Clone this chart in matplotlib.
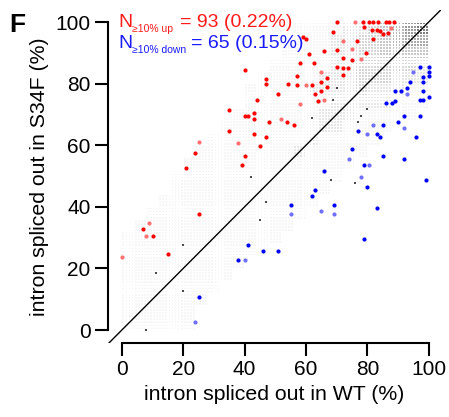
import numpy as np
import matplotlib
matplotlib.use("Agg")
import matplotlib.pyplot as plt

plt.rcParams["font.family"] = ["Liberation Sans", "DejaVu Sans"]

# ---- data ----
up_x = [70, 78.5, 80.5, 82, 83.4, 86, 87, 88.6, 68.7, 59, 60, 79, 81.4, 83, 84, 85,
        86.6, 82, 76.5, 65.8, 61, 72, 79.5, 70, 58, 62.5, 70, 72, 73.6, 75, 57, 66.8,
        72, 65, 62, 66.8, 57, 63, 65, 64, 51, 40, 47, 47, 54, 44, 35, 40, 41, 43, 43,
        48, 53.7, 56, 35, 43, 47, 45, 40, 39, 24, 21, 25, 7, 10, 15]
up_y = [100, 100, 100, 100, 100, 100, 100, 100, 96.8, 95, 94.5, 98.4, 97.4, 97.4, 97,
        96, 96.4, 94.5, 94, 90.6, 89.6, 88.3, 90, 91, 86.7, 86.7, 85.4, 85, 85, 87.6,
        82.5, 81.8, 82.8, 80.5, 79.5, 78.9, 79.5, 76.6, 77.6, 74.4, 76.6, 84.4, 81.5,
        80, 80, 74.7, 71.4, 69.5, 69.5, 70.5, 68.5, 67.5, 67.5, 66.6, 64.6, 63.6, 62.7,
        59.7, 56.5, 53.6, 57.5, 52.6, 37.7, 32.8, 30.5, 24.7]
up_light_x = [76, 87.6, 72, 75, 78, 65, 60, 58, 52, 38, 25, 9, 8, 0, 66]
up_light_y = [100, 98, 94, 91.2, 88, 83.8, 79.5, 73.4, 68.5, 60.7, 61, 34.7, 30.5, 23.7, 74.7]

down_x = [97, 100, 100, 100, 98, 98, 94, 92.8, 89, 91, 98, 86, 88, 89, 97, 98, 100,
          92, 97, 90, 85, 77, 83, 84, 96, 75, 85, 92, 79, 66, 99, 80, 63, 62, 55, 69,
          83, 79, 41, 46, 51, 38, 25]
down_y = [85.4, 85.4, 83.8, 82.5, 82, 80.5, 80.5, 78.6, 77.6, 77.6, 77.5, 73.7, 73.7,
          74.4, 74.7, 74.7, 75.6, 69.5, 69.5, 67.5, 66.5, 64.6, 63.6, 62.7, 62.7, 58.8,
          56.5, 55.5, 53.6, 51.6, 48.7, 46.4, 45.5, 43.5, 40.6, 40.6, 39.6, 29.5, 27.6,
          25.6, 25.6, 22.7, 10.7]
down_light_x = [95, 92.8, 92, 82, 80, 74, 80.5, 78, 55, 65, 69, 40, 24]
down_light_y = [83.8, 76.6, 65.6, 66.5, 63.6, 55.5, 53.6, 49.7, 37.7, 38.6, 37.7, 22.7, 2.6]

dark_x = [42, 47, 45, 20, 11, 20, 8, 68, 76, 80, 78, 77, 62, 68.7, 70]
dark_y = [49.7, 41.6, 35.7, 27.6, 18.5, 12.7, 0, 48.7, 47.7, 71.7, 69.5, 67.5, 68.8, 74.7, 78.6]

# background density of unchanged introns, 4%-cells, top row = 96-100 %
density_map = [
    "0000000000000011112234579",
    "0000000000000011122334566",
    "0000000000000111122334444",
    "0000000000001111122333332",
    "0000000000011111222333222",
    "0000000000111112222322211",
    "0000000000111111122222111",
    "0000000001111111222111110",
    "0000000011111111221111000",
    "0000000111111112111110000",
    "0000001111111121111100000",
    "0000011111111111111000000",
    "0000111111111111110000000",
    "0000111111111111100000000",
    "0001111111111111000000000",
    "0011111111111110000000000",
    "0111111111111100000000000",
    "1111111111111000000000000",
    "1111111111110000000000000",
    "1111111111000000000000000",
    "1111111110000000000000000",
    "1111111100000000000000000",
    "1111111000000000000000000",
    "1111110000000000000000000",
    "1111110000000000000000000",
]

x_ticks = [0, 20, 40, 60, 80, 100]
y_ticks = [0, 20, 40, 60, 80, 100]

W, H = 449, 417
fig = plt.figure(figsize=(W / 100, H / 100), dpi=100)
ax = fig.add_axes([108 / W, (H - 343) / H, 333 / W, 333.3 / H])

# gray lattice
bg_x, bg_y, bg_c = [], [], []
n_rows = len(density_map)
for r, row in enumerate(density_map):
    j = n_rows - 1 - r
    for i, ch in enumerate(row):
        lev = int(ch)
        if lev == 0:
            continue
        g = 0.965 - 0.06 * (lev - 1)
        for kx in range(4):
            for ky in range(4):
                bg_x.append(4 * i + kx + 0.5)
                bg_y.append(4 * j + ky + 0.5)
                bg_c.append((g, g, g))
ax.scatter(bg_x, bg_y, s=1.6, marker="s", c=bg_c, linewidths=0, zorder=1)
ax.scatter(dark_x, dark_y, s=4.5, marker="s", color="0.3", linewidths=0, zorder=2)

ax.plot([-6, 106], [-6, 106], color="black", lw=1.0, zorder=3)

ax.scatter(up_light_x, up_light_y, s=9, color="#ff7070", linewidths=0, zorder=4)
ax.scatter(up_x, up_y, s=9, color="#ff0000", linewidths=0, zorder=5)
ax.scatter(down_light_x, down_light_y, s=9, color="#7070ff", linewidths=0, zorder=4)
ax.scatter(down_x, down_y, s=9, color="#0000ff", linewidths=0, zorder=5)

ax.set_xlim(-4.5, 104)
ax.set_ylim(-4.2, 104)
for side in ["top", "right"]:
    ax.spines[side].set_visible(False)
ax.spines["left"].set_bounds(0, 100)
ax.spines["bottom"].set_bounds(0, 100)
ax.spines["left"].set_linewidth(1.5)
ax.spines["bottom"].set_linewidth(1.5)
ax.set_xticks(x_ticks)
ax.set_yticks(y_ticks)
ax.tick_params(length=9.5, width=1.5, labelsize=15, pad=3)

ax.set_xlabel("intron spliced out in WT (%)", fontsize=15.3, labelpad=4)
ax.set_ylabel("intron spliced out in S34F (%)", fontsize=15.3, labelpad=5)


def ftext(px, py, s, **kw):
    fig.text(px / W, 1 - py / H, s, va="baseline", ha="left", **kw)


ftext(9, 32, "F", fontsize=19, fontweight="bold")
ftext(118, 27, "N", fontsize=14, color="#ff1a1a")
ftext(132, 32, "≥10% up", fontsize=7.5, color="#ff1a1a")
ftext(180, 27, "= 93 (0.22%)", fontsize=14, color="#ff1a1a")
ftext(118, 48, "N", fontsize=14, color="#1a1aff")
ftext(132, 53, "≥10% down", fontsize=7.5, color="#1a1aff")
ftext(191, 48, "= 65 (0.15%)", fontsize=14, color="#1a1aff")

fig.savefig("out.png", dpi=100)
